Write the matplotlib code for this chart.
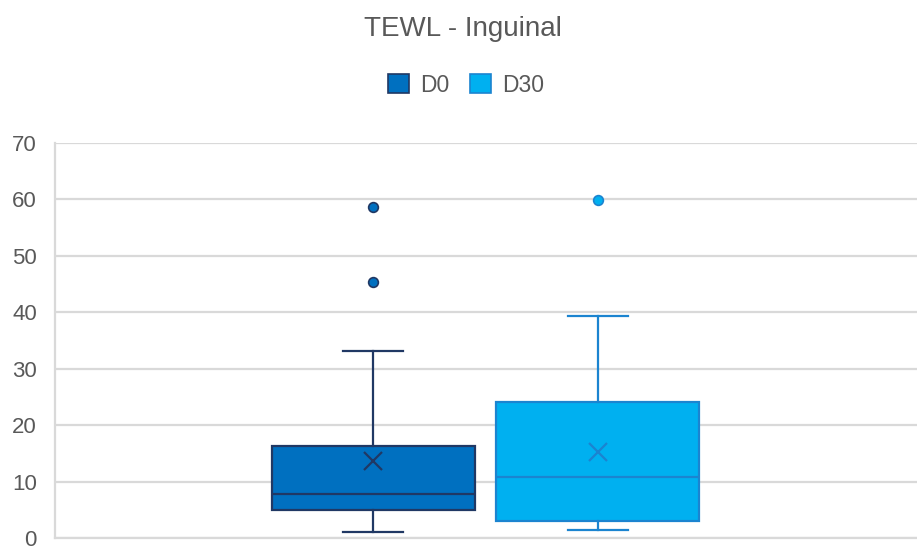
import matplotlib
matplotlib.use("Agg")
import matplotlib.pyplot as plt
from matplotlib.patches import Patch

plt.rcParams['font.family'] = ['Liberation Sans', 'DejaVu Sans']

# Summary statistics for each series
series = ["D0", "D30"]
q1 = [4.95, 3.1]
median = [7.8, 10.9]
q3 = [16.4, 24.1]
mean = [13.65, 15.3]
whisker_low = [1.15, 1.5]
whisker_high = [33.1, 39.45]
outliers = [[58.7, 45.4], [59.9]]

y_ticks = [0, 10, 20, 30, 40, 50, 60, 70]

fill_colors = ["#0070C0", "#00B0F0"]
edge_colors = ["#203864", "#1B84D0"]
text_color = "#595959"
grid_color = "#D9D9D9"

W, H = 917, 547
fig = plt.figure(figsize=(W / 100, H / 100), dpi=100)
ax = fig.add_axes([0.06, 0.0159, 0.94, 0.7227])

offsets = [-0.1307, 0.1296]
box_width = 0.235
cap_width = 0.0696

for i in range(len(series)):
    stats = [dict(med=median[i], q1=q1[i], q3=q3[i],
                  whislo=whisker_low[i], whishi=whisker_high[i],
                  mean=mean[i], fliers=outliers[i])]
    ec = edge_colors[i]
    ax.bxp(stats, positions=[offsets[i]], widths=box_width,
           capwidths=cap_width, patch_artist=True, showmeans=True,
           boxprops=dict(facecolor=fill_colors[i], edgecolor=ec, linewidth=1.6),
           medianprops=dict(color=ec, linewidth=1.6),
           whiskerprops=dict(color=ec, linewidth=1.6),
           capprops=dict(color=ec, linewidth=1.6),
           meanprops=dict(marker="x", markeredgecolor=ec, markersize=13,
                          markeredgewidth=1.6),
           flierprops=dict(marker="o", markerfacecolor=fill_colors[i],
                           markeredgecolor=ec, markersize=7,
                           markeredgewidth=1.2),
           zorder=3)

ax.set_xlim(-0.5, 0.5)
ax.set_ylim(0, 70)
ax.set_yticks(y_ticks)
ax.set_yticklabels([str(t) for t in y_ticks])
ax.set_xticks([])
ax.yaxis.grid(True, color=grid_color, linewidth=1.6)
ax.set_axisbelow(True)
for s in ["top", "right"]:
    ax.spines[s].set_visible(False)
ax.spines["left"].set_color(grid_color)
ax.spines["left"].set_linewidth(1.6)
ax.spines["bottom"].set_color(grid_color)
ax.spines["bottom"].set_linewidth(1.6)
ax.tick_params(axis="y", length=0, pad=13, labelsize=16, labelcolor=text_color)

fig.text(463 / W, 1 - 35.7 / H, "TEWL - Inguinal", ha="center", va="baseline",
         fontsize=20, color=text_color)

handles = [Patch(facecolor=fill_colors[i], edgecolor=edge_colors[i], linewidth=1.2)
           for i in range(len(series))]
fig.legend(handles, series, loc="center", bbox_to_anchor=(466 / W, 1 - 85 / H),
           ncol=2, frameon=False, fontsize=16.5, labelcolor=text_color,
           handlelength=0.92, handleheight=0.92, handletextpad=0.48,
           columnspacing=0.92, borderpad=0, borderaxespad=0)

fig.savefig("out.png", dpi=100)
